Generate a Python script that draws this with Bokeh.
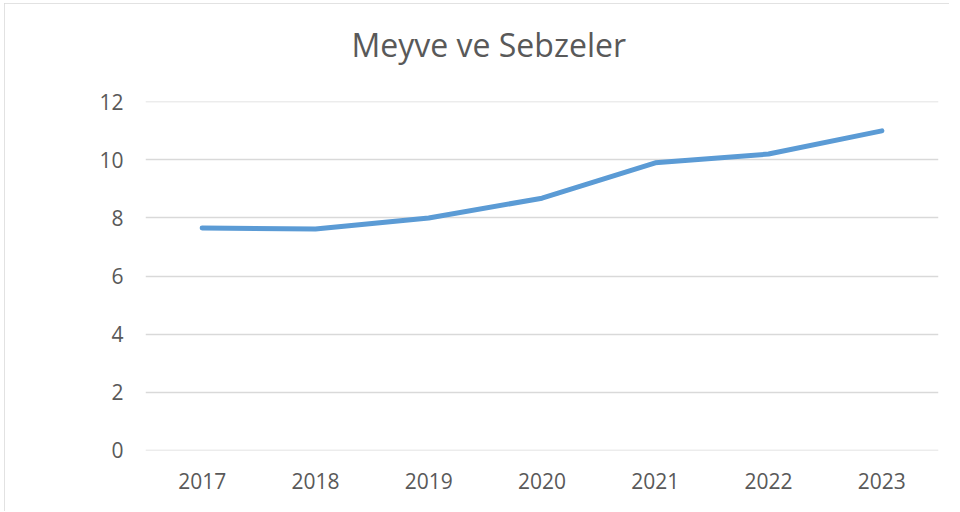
from bokeh.plotting import figure
from bokeh.models import FixedTicker, Title, Range1d
from bokeh.embed import file_html
from bokeh.resources import INLINE

years = ["2017", "2018", "2019", "2020", "2021", "2022", "2023"]
values = [7.65, 7.62, 8.0, 8.68, 9.9, 10.2, 11.0]
y_ticks = [0, 2, 4, 6, 8, 10, 12]
title_text = "Meyve ve Sebzeler"

FONT = "Open Sans"
GRAY = "#595959"

p = figure(width=945, height=508, x_range=years, y_range=Range1d(-0.01, 12.01),
           output_backend="svg", toolbar_location=None,
           min_border_left=141, min_border_right=11,
           min_border_top=98, min_border_bottom=61)
p.x_range.range_padding = 0
p.styles = {"outline": "1px solid #d9d9d9", "outline-offset": "-1px",
            "margin-left": "4px", "margin-top": "3px"}

# spacer between frame and title, then the title itself
spacer = Title(text=" ", text_font_size="1px", standoff=33)
p.add_layout(spacer, "above")
t = Title(text=title_text, align="left", offset=206, standoff=0,
          text_font=FONT, text_font_size="32px", text_font_style="normal",
          text_color=GRAY)
p.add_layout(t, "above")

p.line(years, values, line_color="#5b9bd5", line_width=5,
       line_cap="round", line_join="round")

p.outline_line_color = None
p.xgrid.grid_line_color = None
p.ygrid.grid_line_color = "#d9d9d9"
p.ygrid.grid_line_width = 1.5
p.yaxis.ticker = FixedTicker(ticks=y_ticks)

for ax in (p.xaxis[0], p.yaxis[0]):
    ax.axis_line_color = None
    ax.major_tick_line_color = None
    ax.minor_tick_line_color = None
    ax.major_tick_out = 0
    ax.major_tick_in = 0
    ax.major_label_text_font = FONT
    ax.major_label_text_font_size = "21px"
    ax.major_label_text_color = GRAY
p.xaxis.major_label_standoff = 22
p.yaxis.major_label_standoff = 22

open("out.html", "w").write(file_html(p, INLINE))
